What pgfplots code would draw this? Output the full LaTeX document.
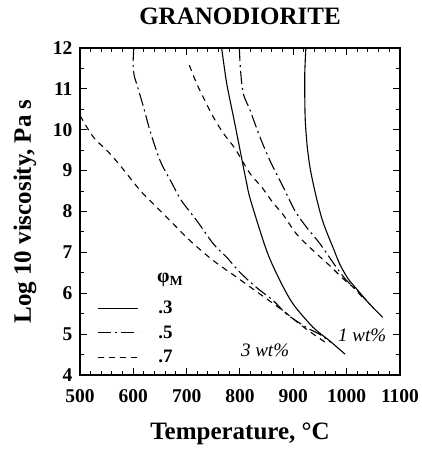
\documentclass[border=0pt]{standalone}
\usepackage{fontspec}
\setmainfont{Liberation Serif}
\usepackage{pgfplots}
\pgfplotsset{compat=1.18}
\begin{document}
\begin{tikzpicture}
\begin{axis}[
  name=ax, at={(0,0)}, anchor=south west,
  scale only axis, width=320pt, height=327pt,
  xmin=500, xmax=1100, ymin=4, ymax=12,
  xtick={500,600,...,1100}, ytick={4,5,...,12},
  minor x tick num=4, minor y tick num=1,
  tick align=inside, tick pos=both,
  major tick length=7pt, minor tick length=4pt,
  axis line style={line width=1.8pt},
  every tick/.style={line width=1pt, black},
  /pgf/number format/assume math mode=true,
  /pgf/number format/1000 sep={},
  ticklabel style={font=\bfseries\fontsize{19.5}{19.5}\selectfont},
  xticklabel style={yshift=-11pt},
  yticklabel style={xshift=-4pt},
  xlabel={\bfseries Temperature, °C},
  ylabel={\bfseries Log 10 viscosity, Pa s},
  xlabel style={font=\fontsize{25}{25}\selectfont, at={(rel axis cs:0.5,0)}, anchor=center, yshift=-59pt},
  ylabel style={font=\fontsize{25}{25}\selectfont, at={(rel axis cs:0,0.5)}, anchor=center, yshift=55pt},
  title={\bfseries GRANODIORITE},
  title style={font=\fontsize{25}{25}\selectfont, at={(rel axis cs:0.5,1)}, anchor=center, yshift=26pt},
  legend image code/.code={\draw[#1] (0pt,0pt) -- (40pt,0pt);},
  legend style={at={(rel axis cs:0.053,0.242)}, anchor=north west, draw=none, fill=none,
    inner sep=0pt, font=\bfseries\fontsize{19}{19}\selectfont,
    nodes={minimum height=24.5pt, inner sep=0pt}, column sep=20pt},
  legend cell align=left,
]
\pgfplotsset{
  s/.style={black, line width=1.1pt, solid},
  dd/.style={black, line width=1.1pt, dash pattern=on 13pt off 4pt on 2pt off 4pt},
  dsh/.style={black, line width=1.1pt, dash pattern=on 6pt off 5pt},
}
% phi = 0.3, 1 wt%
\addplot[s, forget plot, smooth] coordinates {(923.5,12) (921.5,11.4) (921.5,10.8) (922.5,10.2) (926,9.6) (931,9.1) (937,8.7) (944,8.3) (953,7.85) (962.5,7.5) (975,7.1) (987.5,6.7) (1003,6.35) (1019,6.1) (1040,5.78) (1067.5,5.41)};
% phi = 0.5, 1 wt%
\addplot[dd, forget plot, smooth] coordinates {(798.75,12) (801,11.46) (806,10.89) (818.75,10.48) (837.5,9.82) (856,9.25) (881,8.6) (903,8.02) (925,7.61) (950,7.21) (981,6.63) (1000,6.31) (1019,6.08) (1044,5.72)};
% phi = 0.7, 1 wt%
\addplot[dsh, forget plot, smooth] coordinates {(705,11.58) (718.75,11.13) (734,10.72) (750,10.31) (769,9.91) (790.6,9.54) (818.75,8.93) (840.6,8.6) (861,8.23) (881,7.92) (906,7.45) (937.5,7.04) (968.75,6.67) (993.75,6.35) (1012,6.15) (1031,5.88)};
% phi = 0.3, 3 wt%
\addplot[s, forget plot, smooth] coordinates {(765.6,12) (775,11.14) (787.5,10.33) (800,9.51) (812.5,8.69) (820,8.27) (850,7.04) (875,6.31) (900,5.73) (937.5,5.16) (968.75,4.83) (996.9,4.51)};
% phi = 0.5, 3 wt%
\addplot[dd, forget plot, smooth] coordinates {(601,12) (599.5,11.6) (602,11.3) (606,11.13) (619,10.56) (631,9.99) (650,9.25) (672,8.7) (690,8.27) (718.75,7.78) (750,7.21) (775,6.88) (800,6.51) (831,6.14) (862.5,5.82) (887.5,5.49) (925,5.16) (950,4.99) (970,4.8)};
% phi = 0.7, 3 wt%
\addplot[dsh, forget plot, smooth] coordinates {(500,10.35) (525,9.82) (550,9.5) (575,9.13) (612.5,8.52) (634,8.23) (662.5,7.86) (706,7.29) (750,6.8) (794,6.39) (837.5,5.98) (881,5.57) (912.5,5.24) (937.5,5.0) (960,4.8)};
\addlegendimage{s}\addlegendentry{.3}
\addlegendimage{dd}\addlegendentry{.5}
\addlegendimage{dsh}\addlegendentry{.7}
\node[font=\bfseries\fontsize{20}{20}\selectfont, anchor=west] at (rel axis cs:0.23,0.29) {φ\textsubscript{M}};
\node[font=\itshape\fontsize{19}{19}\selectfont] at (axis cs:1029,4.98) {1 wt\%};
\node[font=\itshape\fontsize{19}{19}\selectfont] at (axis cs:847,4.61) {3 wt\%};
\end{axis}
\pgfresetboundingbox
\path[use as bounding box] (-80pt,-76pt) rectangle (342pt,375pt);
\end{tikzpicture}
\end{document}
